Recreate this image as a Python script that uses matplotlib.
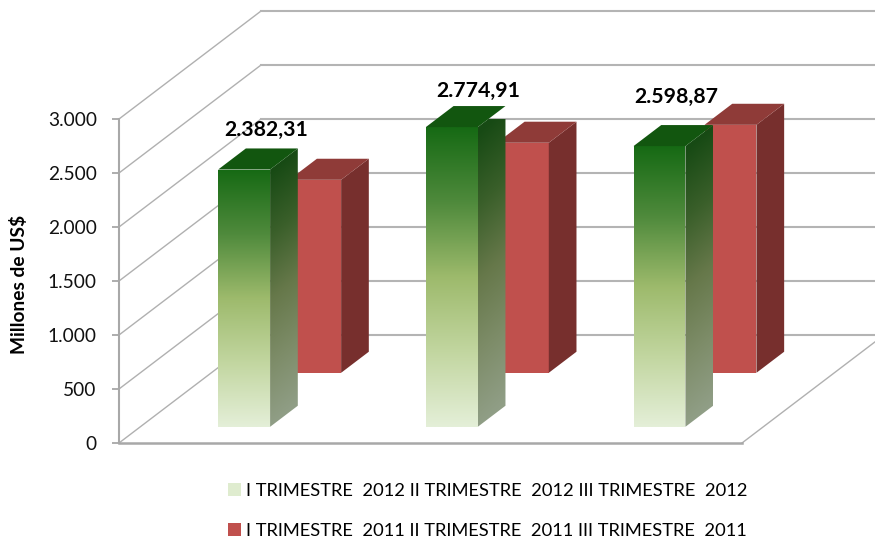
from __future__ import annotations

import matplotlib
matplotlib.use("Agg")
import matplotlib.pyplot as plt
import numpy as np
from matplotlib.colors import LinearSegmentedColormap
from matplotlib.patches import Patch, Polygon

TRIMESTRES = ["I TRIMESTRE", "II TRIMESTRE", "III TRIMESTRE"]
VALUES_2012 = [2382.31, 2774.91, 2598.87]
VALUES_2011 = [1787, 2130, 2296]
LABELS_2012 = ["2.382,31", "2.774,91", "2.598,87"]
Y_TICKS = [0, 500, 1000, 1500, 2000, 2500, 3000]
Y_TICK_LABELS = ["0", "500", "1.000", "1.500", "2.000", "2.500", "3.000"]

WIDTH_PX, HEIGHT_PX = 875, 539
# oblique projection: one unit of depth moves this much in x and y
DEPTH_X = 0.684
DEPTH_Y = 1000
BAR_LEFT, BAR_RIGHT = 0.375, 0.625

GRID_COLOR = "#b4b4b4"
FRONT_GREEN = LinearSegmentedColormap.from_list(
    "front_green", ["#166a14", "#4f8a3c", "#9dba6c", "#c2d6a0", "#e4efd8"]
)
SIDE_GREEN = LinearSegmentedColormap.from_list(
    "side_green", ["#174a14", "#3a5f2a", "#66784a", "#7d8c68", "#909e86"]
)
TOP_GREEN = "#12560f"
FRONT_RED = "#c0504d"
SIDE_RED = "#772f2d"
TOP_RED = "#8f3b38"


def project(x, y, z):
    return x + z * DEPTH_X, y + z * DEPTH_Y


def gradient_face(ax, corners, cmap, skew=0.0):
    xs = [c[0] for c in corners]
    ys = [c[1] for c in corners]
    u, v = np.meshgrid(np.linspace(0, 1, 64), np.linspace(0, 1, 256))
    colors = np.clip(v - skew * (1 - u), 0, 1) / (1 - skew)
    im = ax.imshow(
        np.clip(colors, 0, 1),
        cmap=cmap,
        vmin=0,
        vmax=1,
        extent=(min(xs), max(xs), min(ys), max(ys)),
        origin="upper",
        aspect="auto",
        interpolation="bilinear",
        zorder=ax.zorder_next(),
    )
    patch = Polygon(corners, closed=True, transform=ax.transData, fc="none", ec="none")
    ax.add_patch(patch)
    im.set_clip_box(None)
    im.set_clip_path(patch)


def flat_face(ax, corners, color, zorder):
    ax.add_patch(Polygon(corners, closed=True, fc=color, ec="none", zorder=zorder, clip_on=False))


def draw_bar(ax, x, value, z0, z1, front, side, top):
    left = x + BAR_LEFT
    right = x + BAR_RIGHT
    front_face = [project(left, 0, z0), project(right, 0, z0), project(right, value, z0), project(left, value, z0)]
    side_face = [project(right, 0, z0), project(right, 0, z1), project(right, value, z1), project(right, value, z0)]
    top_face = [project(left, value, z0), project(right, value, z0), project(right, value, z1), project(left, value, z1)]
    if isinstance(front, str):
        flat_face(ax, front_face, front, ax.zorder_next())
        flat_face(ax, side_face, side, ax.zorder_next())
    else:
        gradient_face(ax, front_face, front)
        gradient_face(ax, side_face, side, skew=0.08)
    flat_face(ax, top_face, top, ax.zorder_next())


def main() -> None:
    plt.rcParams["font.family"] = ["Lato", "DejaVu Sans"]
    fig = plt.figure(figsize=(WIDTH_PX / 100, HEIGHT_PX / 100), dpi=100)
    ax = fig.add_axes([119 / WIDTH_PX, (HEIGHT_PX - 443) / HEIGHT_PX, 623 / WIDTH_PX, 324 / HEIGHT_PX])

    # simple counter so faces stack in drawing order
    counter = iter(range(10, 1000))
    ax.zorder_next = lambda: next(counter)

    # side wall, back wall and floor edge
    for tick in Y_TICKS:
        xs, ys = zip(project(0, tick, 0), project(0, tick, 1))
        ax.plot(xs, ys, color="#b0b0b0", lw=1.0, clip_on=False, zorder=2)
        xs, ys = zip(project(0, tick, 1), project(len(TRIMESTRES), tick, 1))
        ax.plot(xs, ys, color=GRID_COLOR, lw=1.5, clip_on=False, zorder=2)
    xs, ys = zip(project(len(TRIMESTRES), 0, 0), project(len(TRIMESTRES), 0, 1))
    ax.plot(xs, ys, color="#b0b0b0", lw=1.0, clip_on=False, zorder=2)

    # 2011 sits behind 2012
    for i, value in enumerate(VALUES_2011):
        draw_bar(ax, i, value, 0.65, 0.845, FRONT_RED, SIDE_RED, TOP_RED)
    for i, value in enumerate(VALUES_2012):
        draw_bar(ax, i, value, 0.15, 0.345, FRONT_GREEN, SIDE_GREEN, TOP_GREEN)

    label_offsets = [(-4, 13), (-1, 11), (-8, 20)]
    for i, (value, label) in enumerate(zip(VALUES_2012, LABELS_2012)):
        ax.annotate(
            label,
            xy=project(i + 0.5, value, 0.345),
            xytext=label_offsets[i],
            textcoords="offset points",
            ha="center",
            va="center",
            fontsize=15.3,
            fontweight="bold",
            color="black",
            annotation_clip=False,
            zorder=900,
        )

    ax.set_xlim(0, len(TRIMESTRES))
    ax.set_ylim(0, 3000)
    ax.set_xticks([])
    ax.set_yticks(Y_TICKS)
    ax.set_yticklabels(Y_TICK_LABELS, fontsize=13.8, color="#111111")
    ax.tick_params(axis="y", length=5, width=1.2, color="#a0a0a0", pad=11)
    ax.patch.set_visible(False)
    for name in ("top", "right"):
        ax.spines[name].set_visible(False)
    ax.spines["left"].set_color("#a8a8a8")
    ax.spines["left"].set_linewidth(1.5)
    ax.spines["bottom"].set_color("#a8a8a8")
    ax.spines["bottom"].set_linewidth(1.8)
    ax.spines["left"].set_zorder(3)

    fig.text(19 / WIDTH_PX, 1 - 284 / HEIGHT_PX, "Millones de US$", rotation=90,
             ha="center", va="center", fontsize=13.8, fontweight="bold", color="black")

    label_2012 = " ".join(f"{t}  2012" for t in TRIMESTRES)
    label_2011 = " ".join(f"{t}  2011" for t in TRIMESTRES)
    handles = [
        Patch(facecolor="#dfeccf", edgecolor="none"),
        Patch(facecolor=FRONT_RED, edgecolor="none"),
    ]
    fig.legend(
        handles,
        [label_2012, label_2011],
        loc="upper left",
        bbox_to_anchor=(228 / WIDTH_PX, 1 - 483 / HEIGHT_PX),
        frameon=False,
        fontsize=13.2,
        labelspacing=1.3,
        handlelength=0.72,
        handleheight=0.72,
        handletextpad=0.28,
        borderpad=0,
        borderaxespad=0,
    )

    fig.savefig("out.png", dpi=100)


if __name__ == "__main__":
    main()
